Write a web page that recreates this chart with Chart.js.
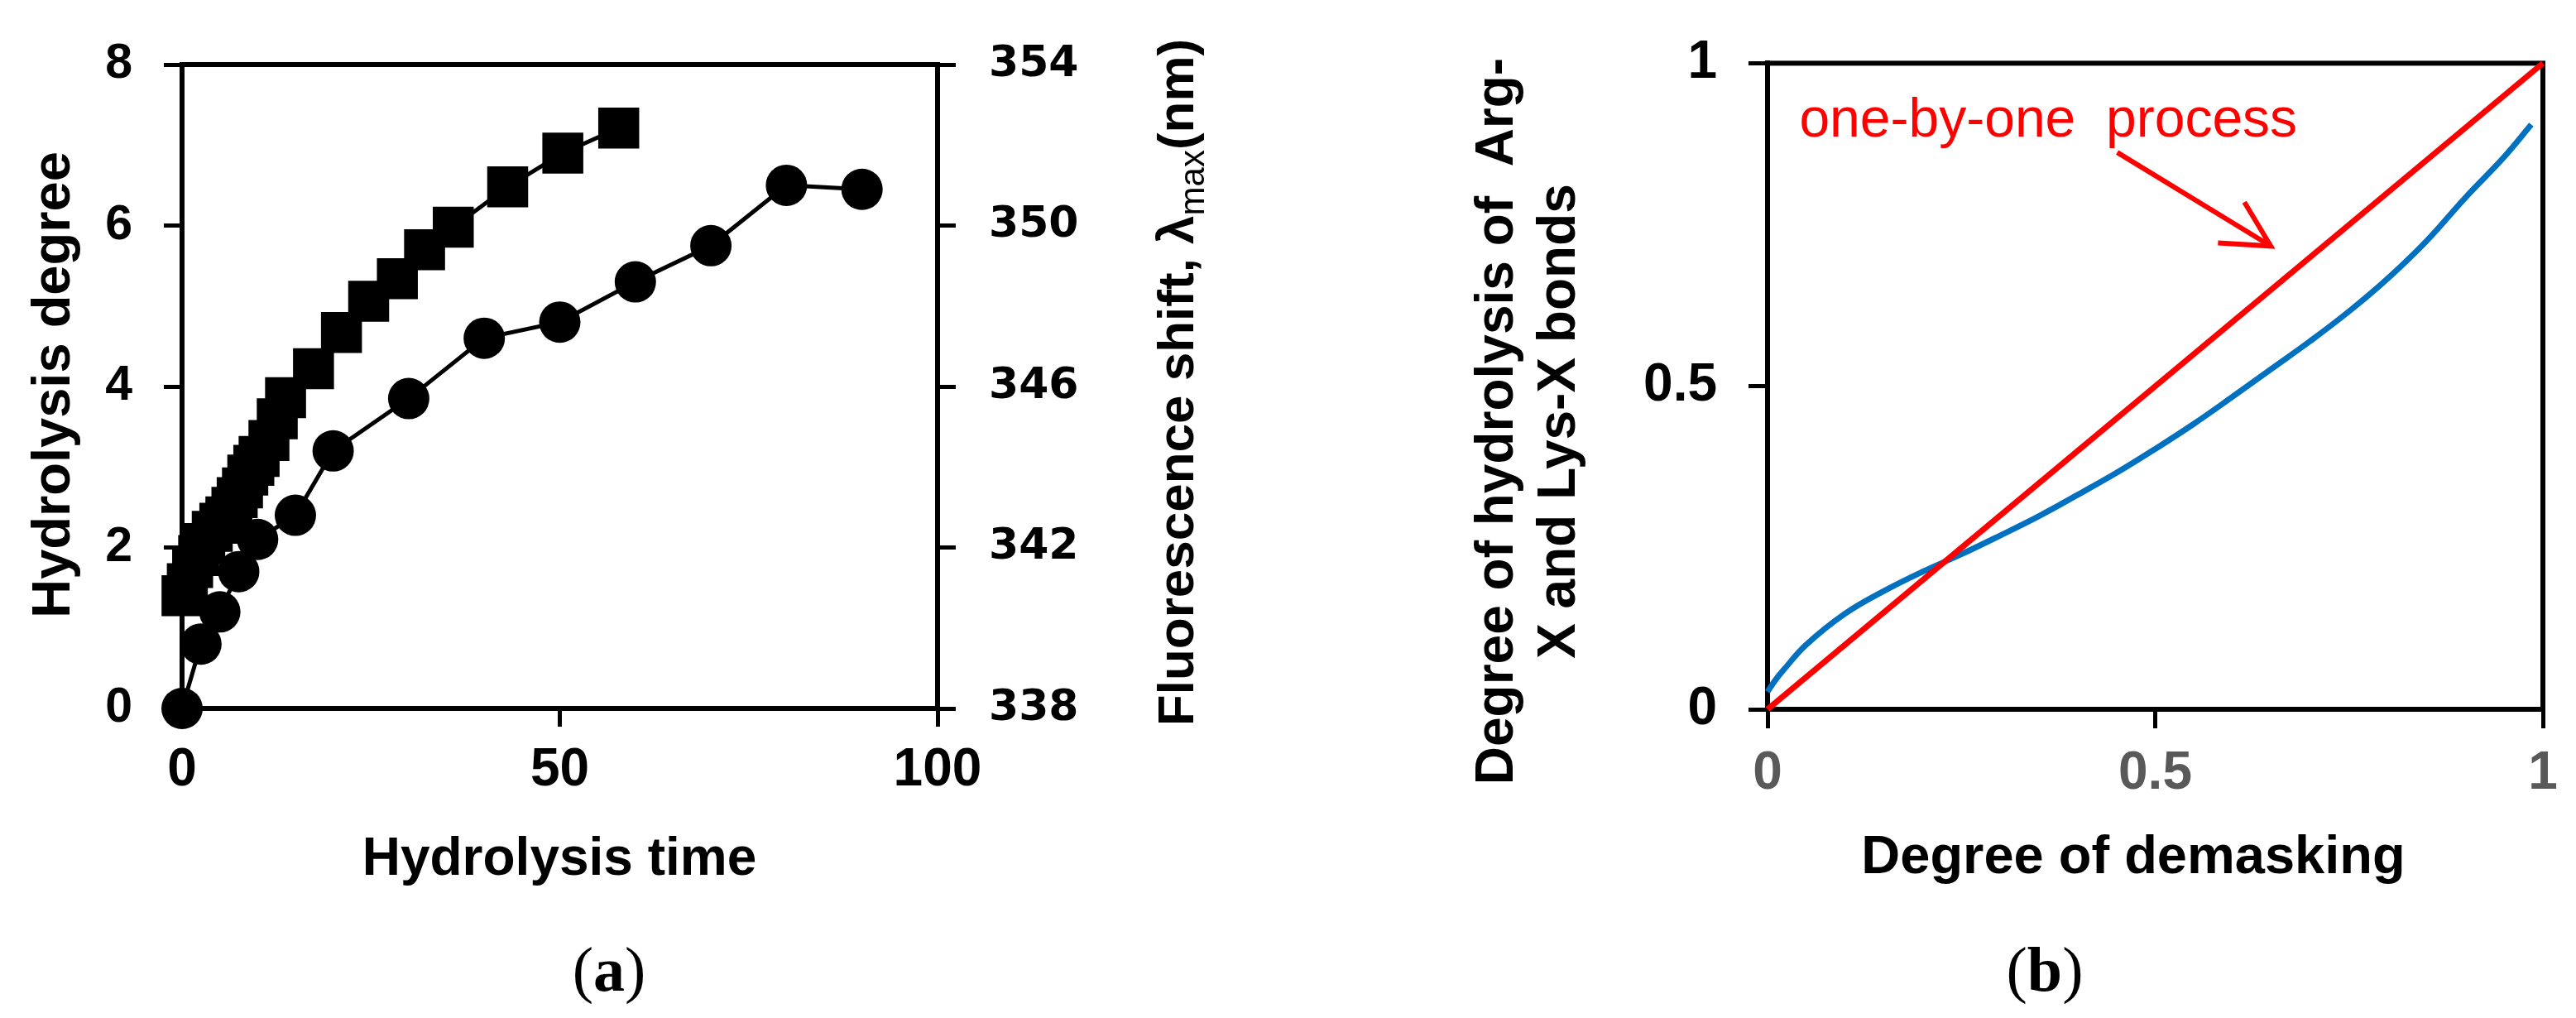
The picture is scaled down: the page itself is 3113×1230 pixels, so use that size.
<!DOCTYPE html>
<html>
<head>
<meta charset="utf-8">
<script src="https://cdn.jsdelivr.net/npm/chart.js@4.4.1/dist/chart.umd.min.js"></script>
<style>
  body{margin:0;background:#fff;width:3113px;height:1230px;overflow:hidden;position:relative}
  canvas{position:absolute;top:0}
  #chartA{left:0}
  #chartB{left:1560px}
</style>
</head>
<body>
<canvas id="chartA" width="1560" height="1230"></canvas>
<canvas id="chartB" width="1553" height="1230"></canvas>
<script>
// panel (a): hydrolysis degree (squares, left axis)
const timeSquares = [0, 0.7, 1.4, 2.2, 3, 4, 5, 5.8, 6.6, 7.3, 8, 8.7, 9.5, 10.2, 11.5, 12.6, 13.7, 17.4, 21.1, 24.7, 28.5, 32.1, 35.9, 43.1, 50.4, 57.8];
const hydrolysisDegree = [1.4, 1.55, 1.75, 1.9, 2.05, 2.2, 2.3, 2.38, 2.5, 2.62, 2.74, 2.9, 3.02, 3.13, 3.33, 3.6, 3.86, 4.22, 4.67, 5.06, 5.34, 5.7, 5.98, 6.48, 6.9, 7.21];
// panel (a): fluorescence shift (circles, right axis)
const timeCircles = [0, 2.5, 5, 7.5, 10, 15, 20, 30, 40, 50, 60, 70, 80, 90];
const fluorescenceShift = [338, 339.6, 340.4, 341.4, 342.2, 342.8, 344.4, 345.7, 347.2, 347.6, 348.6, 349.5, 351.0, 350.9];
const timeTicks = [0, 50, 100];
const degreeTicks = [0, 2, 4, 6, 8];
const shiftTicks = [338, 342, 346, 350, 354];

// panel (b)
const demasking = [0, 0.01, 0.02, 0.05, 0.1, 0.15, 0.2, 0.25, 0.3, 0.35, 0.4, 0.45, 0.5, 0.55, 0.6, 0.65, 0.7, 0.75, 0.8, 0.85, 0.9, 0.95, 0.985];
const bondHydrolysis = [0.027, 0.045, 0.06, 0.1, 0.148, 0.183, 0.213, 0.24, 0.269, 0.299, 0.332, 0.366, 0.403, 0.442, 0.484, 0.527, 0.57, 0.616, 0.667, 0.725, 0.792, 0.855, 0.905];
const oneByOneX = [0, 1];
const oneByOneY = [0, 1];
const arrowShaft = [[0.451, 0.862], [0.649, 0.717]];
const arrowHead = [[0.615, 0.785], [0.649, 0.717], [0.581, 0.722]];
const noteLabel = 'one-by-one  process';
const notePos = [0.041, 0.886];
const unitTicks = [0, 0.5, 1];

const SANS = '"Liberation Sans", Arial, sans-serif';
const SERIF = '"Liberation Serif", "Times New Roman", serif';

function fixedTicks(values){
  return scale => { scale.ticks = values.map(v => ({value: v})); };
}
function pts(xs, ys){ return xs.map((x, i) => ({x: x, y: ys[i]})); }
function pairs(list){ return list.map(p => ({x: p[0], y: p[1]})); }
const plain = v => String(v);

function axis(extra){
  return Object.assign({
    type: 'linear',
    grid: {drawOnChartArea: false, drawTicks: true, tickLength: 22, tickWidth: 5, tickColor: '#000'},
    border: {display: true, color: '#000', width: 6}
  }, extra);
}

const frame = {
  id: 'frame',
  beforeDatasetsDraw(chart){
    const {ctx, chartArea: a} = chart;
    ctx.save();
    ctx.strokeStyle = '#000';
    ctx.lineWidth = 6;
    ctx.strokeRect(a.left, a.top, a.right - a.left, a.bottom - a.top);
    ctx.restore();
  }
};

function upText(ctx, text, x, y, font){
  ctx.save();
  ctx.translate(x, y);
  ctx.rotate(-Math.PI / 2);
  ctx.font = font;
  ctx.textAlign = 'center';
  ctx.textBaseline = 'alphabetic';
  ctx.fillText(text, 0, 0);
  ctx.restore();
}

function panelLabel(ctx, letter, cx, baseline){
  ctx.save();
  ctx.fillStyle = '#000';
  ctx.textBaseline = 'alphabetic';
  ctx.textAlign = 'left';
  const reg = '76px ' + SERIF, bold = 'bold 76px ' + SERIF;
  ctx.font = reg; const wp = ctx.measureText('(').width;
  ctx.font = bold; const wl = ctx.measureText(letter).width;
  let x = cx - (2 * wp + wl) / 2;
  ctx.font = reg; ctx.fillText('(', x, baseline); x += wp;
  ctx.font = bold; ctx.fillText(letter, x, baseline); x += wl;
  ctx.font = reg; ctx.fillText(')', x, baseline);
  ctx.restore();
}

const textsA = {
  id: 'textsA',
  afterDraw(chart){
    const ctx = chart.ctx;
    ctx.save();
    ctx.fillStyle = '#000';
    upText(ctx, 'Hydrolysis degree', 84, 465, 'bold 65px ' + SANS);
    ctx.font = 'bold 64px ' + SANS;
    ctx.textAlign = 'center';
    ctx.textBaseline = 'alphabetic';
    ctx.fillText('Hydrolysis time', 676, 1057);

    // right title with subscript
    const main = 'bold 62px ' + SANS, sub = '42px ' + SANS;
    const t1 = 'Fluorescence shift, \u03bb', t2 = 'max', t3 = '(nm)';
    ctx.font = main; const w1 = ctx.measureText(t1).width, w3 = ctx.measureText(t3).width;
    ctx.font = sub; const w2 = ctx.measureText(t2).width;
    ctx.translate(1442, 462);
    ctx.rotate(-Math.PI / 2);
    ctx.textAlign = 'left';
    let x = -(w1 + w2 + w3) / 2;
    ctx.font = main; ctx.fillText(t1, x, 0); x += w1;
    ctx.font = sub; ctx.fillText(t2, x, 13); x += w2;
    ctx.font = main; ctx.fillText(t3, x, 0);
    ctx.restore();
    panelLabel(ctx, 'a', 736, 1197);
  }
};

const textsB = {
  id: 'textsB',
  afterDatasetsDraw(chart){
    const ctx = chart.ctx, sx = chart.scales.x, sy = chart.scales.y;
    ctx.save();
    ctx.fillStyle = '#FF0000';
    ctx.font = '66px ' + SANS;
    ctx.textAlign = 'left';
    ctx.textBaseline = 'alphabetic';
    ctx.fillText(noteLabel, sx.getPixelForValue(notePos[0]), sy.getPixelForValue(notePos[1]));
    ctx.restore();
  },
  afterDraw(chart){
    const ctx = chart.ctx;
    ctx.save();
    ctx.fillStyle = '#000';
    upText(ctx, 'Degree of hydrolysis of  Arg-', 268, 509, 'bold 64px ' + SANS);
    upText(ctx, 'X and Lys-X bonds', 343, 509, 'bold 64px ' + SANS);
    ctx.font = 'bold 65px ' + SANS;
    ctx.textAlign = 'center';
    ctx.textBaseline = 'alphabetic';
    ctx.fillText('Degree of demasking', 1018, 1055);
    ctx.restore();
    panelLabel(ctx, 'b', 911, 1197);
  }
};

const common = {
  responsive: false,
  animation: false,
  events: [],
  plugins: {legend: {display: false}, tooltip: {enabled: false}}
};

new Chart(document.getElementById('chartA'), {
  type: 'line',
  data: {
    datasets: [
      {
        label: 'Fluorescence shift', data: pts(timeCircles, fluorescenceShift), yAxisID: 'y2',
        borderColor: '#000', backgroundColor: '#000', borderWidth: 5,
        pointStyle: 'circle', pointRadius: 25, pointBorderWidth: 0, clip: false, tension: 0
      },
      {
        label: 'Hydrolysis degree', data: pts(timeSquares, hydrolysisDegree), yAxisID: 'y',
        borderColor: '#000', backgroundColor: '#000', borderWidth: 5,
        pointStyle: 'rect', pointRadius: 35, pointBorderWidth: 0, clip: false, tension: 0
      }
    ]
  },
  options: Object.assign({}, common, {
    layout: {padding: {left: 0, right: 127, top: 78, bottom: 174}},
    scales: {
      x: axis({
        position: 'bottom', min: 0, max: 100,
        afterBuildTicks: fixedTicks(timeTicks), afterFit: s => { s.height = 200; },
        ticks: {color: '#000', padding: 15, maxRotation: 0, callback: plain, font: {family: SANS, size: 64, weight: 'bold'}}
      }),
      y: axis({
        position: 'left', min: 0, max: 8,
        afterBuildTicks: fixedTicks(degreeTicks), afterFit: s => { s.width = 220; },
        ticks: {color: '#000', padding: 38, callback: plain, font: {family: SANS, size: 59, weight: 'bold'}}
      }),
      y2: axis({
        position: 'right', min: 338, max: 354,
        afterBuildTicks: fixedTicks(shiftTicks), afterFit: s => { s.width = 300; },
        ticks: {color: '#000', padding: 40, callback: plain, font: {family: '"DejaVu Sans", sans-serif', size: 52, weight: 'bold'}}
      })
    }
  }),
  plugins: [frame, textsA]
});

new Chart(document.getElementById('chartB'), {
  type: 'line',
  data: {
    datasets: [
      {
        label: 'one-by-one', data: pts(oneByOneX, oneByOneY),
        borderColor: '#FF0000', borderWidth: 7, pointRadius: 0, clip: false, tension: 0
      },
      {
        label: 'model', data: pts(demasking, bondHydrolysis),
        borderColor: '#0070C0', borderWidth: 7, pointRadius: 0, clip: false, tension: 0.4
      },
      {
        label: 'arrow', data: pairs(arrowShaft),
        borderColor: '#FF0000', borderWidth: 6, pointRadius: 0, clip: false, tension: 0
      },
      {
        label: 'arrow head', data: pairs(arrowHead),
        borderColor: '#FF0000', borderWidth: 6, pointRadius: 0, clip: false, tension: 0, borderJoinStyle: 'miter'
      }
    ]
  },
  options: Object.assign({}, common, {
    layout: {padding: {left: 0, right: 40, top: 62, bottom: 173}},
    scales: {
      x: axis({
        position: 'bottom', min: 0, max: 1,
        afterBuildTicks: fixedTicks(unitTicks), afterFit: s => { s.height = 200; },
        grid: {drawOnChartArea: false, tickLength: 23, tickWidth: 5, tickColor: '#000'},
        ticks: {color: '#595959', padding: 17, maxRotation: 0, callback: plain, font: {family: SANS, size: 64, weight: 'bold'}}
      }),
      y: axis({
        position: 'left', min: 0, max: 1,
        afterBuildTicks: fixedTicks(unitTicks), afterFit: s => { s.width = 576; },
        grid: {drawOnChartArea: false, tickLength: 23, tickWidth: 5, tickColor: '#000'},
        ticks: {color: '#000', padding: 38, callback: plain, font: {family: SANS, size: 64, weight: 'bold'}}
      })
    }
  }),
  plugins: [frame, textsB]
});
</script>
</body>
</html>
